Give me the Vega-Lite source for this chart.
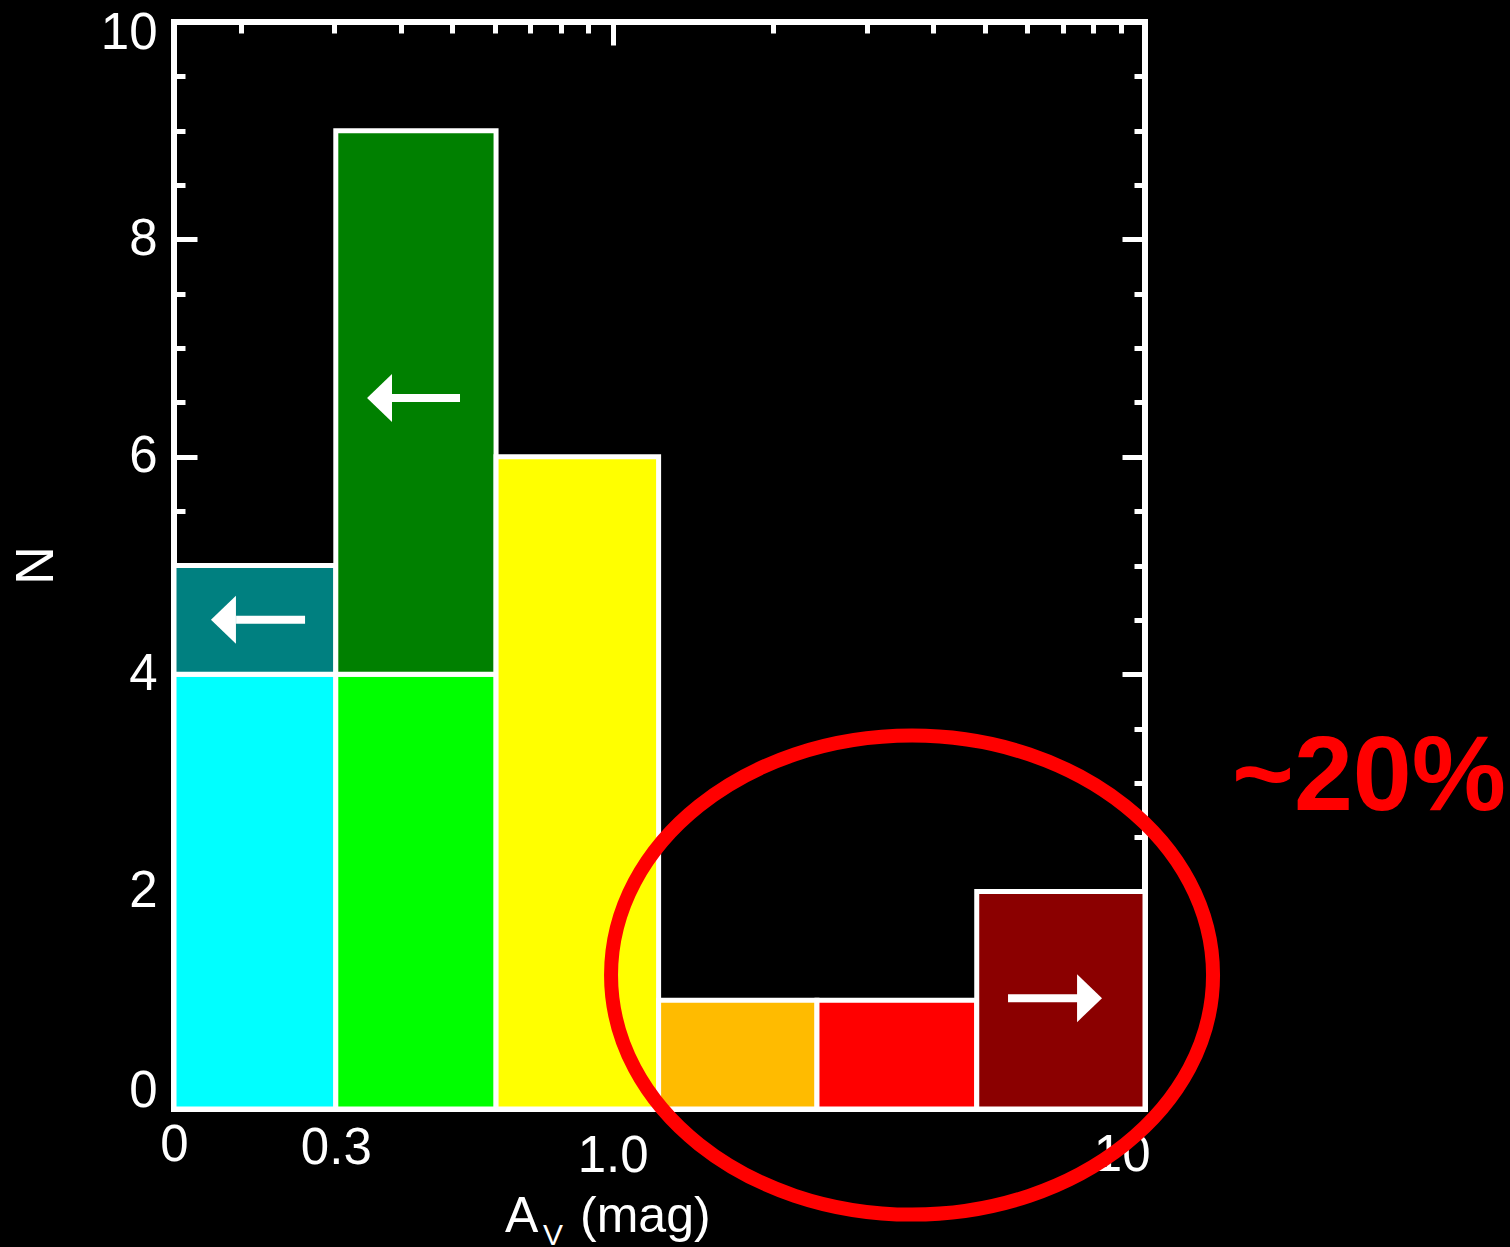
{
  "$schema": "https://vega.github.io/schema/vega-lite/v6.json",
  "width": 971,
  "height": 1087,
  "autosize": {"type": "none"},
  "padding": {"left": 174, "top": 22, "right": 365, "bottom": 138},
  "background": "black",
  "config": {
    "view": {"stroke": "white", "strokeWidth": 6},
    "axis": {
      "domain": false,
      "grid": false,
      "zindex": 1,
      "tickColor": "white",
      "tickWidth": 5,
      "labelColor": "white",
      "labelFont": "Liberation Sans",
      "labelFontSize": 51,
      "title": null
    }
  },
  "datasets": {
    "bars": [
      {"x0": 0.15, "x1": 0.302, "y0": 0, "y1": 4, "c": "g1"},
      {"x0": 0.15, "x1": 0.302, "y0": 4, "y1": 5, "c": "g1 limit"},
      {"x0": 0.302, "x1": 0.604, "y0": 0, "y1": 4, "c": "g2"},
      {"x0": 0.302, "x1": 0.604, "y0": 4, "y1": 9, "c": "g2 limit"},
      {"x0": 0.604, "x1": 1.22, "y0": 0, "y1": 6, "c": "g3"},
      {"x0": 1.22, "x1": 2.42, "y0": 0, "y1": 1, "c": "g4"},
      {"x0": 2.42, "x1": 4.83, "y0": 0, "y1": 1, "c": "g5"},
      {"x0": 4.83, "x1": 10, "y0": 0, "y1": 2, "c": "g6 limit"}
    ],
    "arrows": [
      {"xa": 0.1962, "xb": 0.2644, "tip": 0.176, "y": 4.5, "dir": "left"},
      {"xa": 0.3851, "xb": 0.5168, "tip": 0.3457, "y": 6.54, "dir": "left"},
      {"xa": 5.53, "xb": 7.483, "tip": 8.304, "y": 1.02, "dir": "right"}
    ],
    "ellipse": [{"x": 3.651, "y": 1.232}],
    "note": [{"x": 26.35, "y": 2.754, "t": "~20%"}],
    "xtitle": [{"x": 0.628, "y": -1.136, "t": "A"}, {"x": 0.8685, "y": -1.136, "t": "(mag)"}],
    "xsub": [{"x": 0.74, "y": -1.25, "t": "V"}],
    "ytitle": [{"x": 0.083, "y": 5, "t": "N"}]
  },
  "layer": [
    {
      "data": {"name": "bars"},
      "mark": {"type": "rect", "stroke": "white", "strokeWidth": 5},
      "encoding": {
        "x": {
          "field": "x0", "type": "quantitative",
          "scale": {"type": "log", "domain": [0.15, 10], "nice": false},
          "axis": {
            "orient": "bottom",
            "values": [0.15, 0.302, 1, 10],
            "tickSize": -23,
            "labelPadding": {"condition": [{"test": "datum.value < 0.2", "value": 34}, {"test": "datum.value < 0.5", "value": 37}, {"test": "datum.value < 2", "value": 45}], "value": 44},
            "labelExpr": "datum.value < 0.2 ? '0' : datum.value < 0.5 ? '0.3' : datum.value < 2 ? '1.0' : '10'",
            "labelAlign": {"condition": {"test": "datum.value > 5", "value": "right"}, "value": "center"},
            "labelOffset": {"condition": {"test": "datum.value > 5", "value": 5}, "value": 0}
          }
        },
        "x2": {"field": "x1"},
        "y": {
          "field": "y0", "type": "quantitative",
          "scale": {"domain": [0, 10], "nice": false, "zero": false},
          "axis": {
            "orient": "left",
            "values": [0, 2, 4, 6, 8, 10],
            "format": "d",
            "tickSize": -23,
            "labelPadding": 40,
            "labelBaseline": "middle",
            "labelOffset": {"condition": [{"test": "datum.value == 0", "value": -18}, {"test": "datum.value == 10", "value": 11}], "value": 0}
          }
        },
        "y2": {"field": "y1"},
        "color": {
          "field": "c", "type": "nominal",
          "scale": {
            "domain": ["g1", "g1 limit", "g2", "g2 limit", "g3", "g4", "g5", "g6 limit"],
            "range": ["#00ffff", "#008080", "#00ff00", "#008000", "#ffff00", "#ffbb00", "#ff0000", "#8b0000"]
          },
          "legend": null
        }
      }
    },
    {
      "data": {"name": "arrows"},
      "mark": {"type": "rule", "color": "white", "strokeWidth": 8, "strokeCap": "butt"},
      "encoding": {
        "x": {
          "field": "xa", "type": "quantitative",
          "scale": {"type": "log", "domain": [0.15, 10], "nice": false},
          "axis": {"orient": "bottom", "values": [0.2, 0.4, 0.5, 0.6, 0.7, 0.8, 0.9, 2, 3, 4, 5, 6, 7, 8, 9], "tickSize": -11, "labels": false}
        },
        "x2": {"field": "xb"},
        "y": {
          "field": "y", "type": "quantitative",
          "scale": {"domain": [0, 10], "nice": false, "zero": false},
          "axis": {"orient": "left", "values": [0.5, 1, 1.5, 2.5, 3, 3.5, 4.5, 5, 5.5, 6.5, 7, 7.5, 8.5, 9, 9.5], "tickSize": -11, "labels": false}
        }
      }
    },
    {
      "data": {"name": "arrows"},
      "mark": {"type": "point", "filled": true, "color": "white", "opacity": 1, "strokeWidth": 0, "size": 2304},
      "encoding": {
        "x": {
          "field": "tip", "type": "quantitative",
          "scale": {"type": "log", "domain": [0.15, 10], "nice": false},
          "axis": {"orient": "top", "values": [1, 10], "tickSize": -23, "labels": false}
        },
        "y": {
          "field": "y", "type": "quantitative",
          "scale": {"domain": [0, 10], "nice": false, "zero": false},
          "axis": {"orient": "right", "values": [0, 2, 4, 6, 8, 10], "tickSize": -23, "labels": false}
        },
        "shape": {
          "field": "dir", "type": "nominal",
          "scale": {"domain": ["left", "right"], "range": ["M 0 0 L 1.04 -1 L 1.04 1 Z", "M 0 0 L -1.04 -1 L -1.04 1 Z"]},
          "legend": null
        }
      }
    },
    {
      "data": {"name": "ellipse"},
      "mark": {
        "type": "point",
        "shape": "M 1 0 C 1 0.4395 0.5523 0.7957 0 0.7957 C -0.5523 0.7957 -1 0.4395 -1 0 C -1 -0.4395 -0.5523 -0.7957 0 -0.7957 C 0.5523 -0.7957 1 -0.4395 1 0 Z",
        "filled": false,
        "stroke": "#ff0000",
        "strokeWidth": 14,
        "opacity": 1,
        "size": 362404
      },
      "encoding": {
        "x": {
          "field": "x", "type": "quantitative",
          "scale": {"type": "log", "domain": [0.15, 10], "nice": false},
          "axis": {"orient": "top", "values": [0.2, 0.3, 0.4, 0.5, 0.6, 0.7, 0.8, 0.9, 2, 3, 4, 5, 6, 7, 8, 9], "tickSize": -11, "labels": false}
        },
        "y": {
          "field": "y", "type": "quantitative",
          "scale": {"domain": [0, 10], "nice": false, "zero": false},
          "axis": {"orient": "right", "values": [0.5, 1, 1.5, 2.5, 3, 3.5, 4.5, 5, 5.5, 6.5, 7, 7.5, 8.5, 9, 9.5], "tickSize": -11, "labels": false}
        }
      }
    },
    {
      "data": {"name": "note"},
      "mark": {"type": "text", "font": "Liberation Sans", "fontWeight": "bold", "fontSize": 106, "color": "#ff0000", "align": "center", "baseline": "alphabetic"},
      "encoding": {
        "x": {"field": "x", "type": "quantitative", "scale": {"type": "log", "domain": [0.15, 10], "nice": false}, "axis": null},
        "y": {"field": "y", "type": "quantitative", "scale": {"domain": [0, 10], "nice": false, "zero": false}, "axis": null},
        "text": {"field": "t"}
      }
    },
    {
      "data": {"name": "xtitle"},
      "mark": {"type": "text", "font": "Liberation Sans", "fontSize": 50, "color": "white", "align": "left", "baseline": "alphabetic"},
      "encoding": {
        "x": {"field": "x", "type": "quantitative", "scale": {"type": "log", "domain": [0.15, 10], "nice": false}, "axis": null},
        "y": {"field": "y", "type": "quantitative", "scale": {"domain": [0, 10], "nice": false, "zero": false}, "axis": null},
        "text": {"field": "t"}
      }
    },
    {
      "data": {"name": "xsub"},
      "mark": {"type": "text", "font": "Liberation Sans", "fontSize": 30, "color": "white", "align": "left", "baseline": "alphabetic"},
      "encoding": {
        "x": {"field": "x", "type": "quantitative", "scale": {"type": "log", "domain": [0.15, 10], "nice": false}, "axis": null},
        "y": {"field": "y", "type": "quantitative", "scale": {"domain": [0, 10], "nice": false, "zero": false}, "axis": null},
        "text": {"field": "t"}
      }
    },
    {
      "data": {"name": "ytitle"},
      "mark": {"type": "text", "font": "Liberation Sans", "fontSize": 54, "color": "white", "align": "center", "baseline": "middle", "angle": 270},
      "encoding": {
        "x": {"field": "x", "type": "quantitative", "scale": {"type": "log", "domain": [0.15, 10], "nice": false}, "axis": null},
        "y": {"field": "y", "type": "quantitative", "scale": {"domain": [0, 10], "nice": false, "zero": false}, "axis": null},
        "text": {"field": "t"}
      }
    }
  ],
  "resolve": {"axis": {"x": "independent", "y": "independent"}}
}
